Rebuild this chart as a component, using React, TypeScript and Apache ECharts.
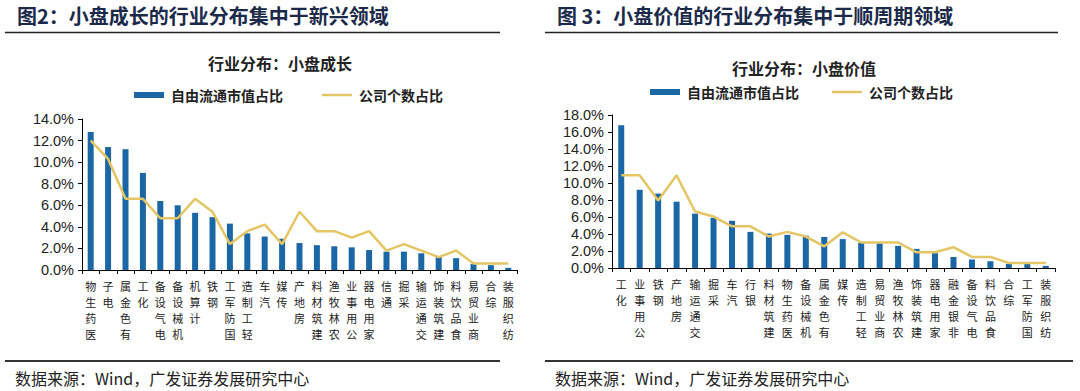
import React, { useEffect, useRef } from "react";
import * as echarts from "echarts";

const leftCats = ["医药生物", "电子", "有色金属", "化工", "电气设备", "机械设备", "计算机", "钢铁", "国防军工", "轻工制造", "汽车", "传媒", "房地产", "建筑材料", "农林牧渔", "公用事业", "家用电器", "通信", "采掘", "交通运输", "建筑装饰", "食品饮料", "商业贸易", "综合", "纺织服装"];
const leftMktCap = [12.8, 11.4, 11.2, 9.0, 6.4, 6.0, 5.3, 4.9, 4.3, 3.4, 3.1, 2.9, 2.5, 2.3, 2.2, 2.1, 1.85, 1.7, 1.7, 1.55, 1.25, 1.1, 0.55, 0.45, 0.2];
const leftCount = [12.0, 10.3, 6.6, 6.6, 4.8, 4.8, 6.6, 5.4, 2.4, 3.6, 4.2, 2.4, 5.4, 3.6, 3.6, 3.0, 3.6, 1.8, 2.4, 1.8, 1.2, 1.8, 0.6, 0.6, 0.6];

const rightCats = ["化工", "公用事业", "钢铁", "房地产", "交通运输", "采掘", "汽车", "银行", "建筑材料", "医药生物", "机械设备", "有色金属", "传媒", "轻工制造", "商业贸易", "农林牧渔", "建筑装饰", "家用电器", "非银金融", "电气设备", "食品饮料", "综合", "国防军工", "纺织服装"];
const rightMktCap = [16.8, 9.2, 8.75, 7.8, 6.4, 5.9, 5.55, 4.25, 4.05, 3.9, 3.8, 3.65, 3.4, 2.95, 2.9, 2.6, 2.25, 1.75, 1.3, 1.0, 0.8, 0.5, 0.5, 0.25];
const rightCount = [10.9, 10.9, 7.95, 10.9, 6.65, 6.05, 4.9, 4.9, 3.7, 4.25, 3.7, 2.55, 4.2, 3.0, 3.0, 3.0, 1.85, 1.85, 2.45, 1.3, 1.3, 0.6, 0.6, 0.6];

const leftYTicks = { max: 14, interval: 2 };
const rightYTicks = { max: 18, interval: 2 };

const SERIES_BAR = "自由流通市值占比";
const SERIES_LINE = "公司个数占比";

const BLUE = "#1b67a6";
const GOLD = "#e5c564";
const NAVY = "#1b2a4a";
const CJK = "'Noto Sans CJK SC', sans-serif";
const NUM = "'Liberation Sans', Arial, sans-serif";

function xAxis(gridIndex: number, cats: string[]) {
  return {
    type: "category",
    gridIndex,
    data: cats,
    axisLine: { lineStyle: { color: "#000", width: 1 } },
    axisTick: { show: true, length: 4, lineStyle: { color: "#000" } },
    axisLabel: {
      interval: 0,
      margin: 8,
      fontSize: 11,
      lineHeight: 16,
      color: "#222",
      fontFamily: CJK,
      verticalAlign: "top",
      formatter: (v: string) => v.split("").reverse().join("\n"),
    },
  };
}

function yAxis(gridIndex: number, t: { max: number; interval: number }) {
  return {
    type: "value",
    gridIndex,
    min: 0,
    max: t.max,
    interval: t.interval,
    splitLine: { show: false },
    axisLine: { show: true, lineStyle: { color: "#000", width: 1 } },
    axisTick: { show: true, length: 4, lineStyle: { color: "#000" } },
    axisLabel: {
      margin: 8,
      fontSize: 14.5,
      color: "#222",
      fontFamily: NUM,
      formatter: (v: number) => v.toFixed(1) + "%",
    },
  };
}

function legendItem(left: number, top: number, name: string, color: string, h: number) {
  return {
    left,
    top,
    itemWidth: 30,
    itemHeight: h,
    itemGap: 0,
    padding: 0,
    selectedMode: false,
    data: [{ name, icon: "rect", itemStyle: { color } }],
    textStyle: { fontSize: 14, fontWeight: "bold", color: "#222", fontFamily: CJK, padding: [0, 0, 0, 2] },
  };
}

export default function App() {
  const ref = useRef<HTMLDivElement>(null);
  useEffect(() => {
    if (!ref.current) return;
    const chart = echarts.init(ref.current, undefined, { renderer: "svg" });
    const option: any = {
      animation: false,
      backgroundColor: "#fff",
      grid: [
        { left: 82, top: 119, width: 435, height: 151 },
        { left: 612, top: 115, width: 443, height: 153 },
      ],
      xAxis: [xAxis(0, leftCats), xAxis(1, rightCats)],
      yAxis: [yAxis(0, leftYTicks), yAxis(1, rightYTicks)],
      legend: [
        legendItem(134, 88, SERIES_BAR, BLUE, 6),
        legendItem(322, 88, SERIES_LINE, GOLD, 2.5),
        legendItem(650, 85, SERIES_BAR, BLUE, 6),
        legendItem(832, 85, SERIES_LINE, GOLD, 2.5),
      ],
      series: [
        { name: SERIES_BAR, type: "bar", xAxisIndex: 0, yAxisIndex: 0, data: leftMktCap, barWidth: 6, itemStyle: { color: BLUE } },
        { name: SERIES_LINE, type: "line", xAxisIndex: 0, yAxisIndex: 0, data: leftCount, symbol: "none", lineStyle: { color: GOLD, width: 2.5 }, itemStyle: { color: GOLD } },
        { name: SERIES_BAR, type: "bar", xAxisIndex: 1, yAxisIndex: 1, data: rightMktCap, barWidth: 6, itemStyle: { color: BLUE } },
        { name: SERIES_LINE, type: "line", xAxisIndex: 1, yAxisIndex: 1, data: rightCount, symbol: "none", lineStyle: { color: GOLD, width: 2.5 }, itemStyle: { color: GOLD } },
      ],
      graphic: [
        { type: "text", left: 17, top: 5, style: { text: "图2：小盘成长的行业分布集中于新兴领域", fontSize: 20, fontWeight: "bold", fill: NAVY, fontFamily: CJK } },
        { type: "line", shape: { x1: 5, y1: 32.5, x2: 500, y2: 32.5 }, style: { stroke: "#222", lineWidth: 1.5 } },
        { type: "text", x: 280, y: 63, style: { text: "行业分布：小盘成长", fontSize: 16, fontWeight: "bold", fill: "#222", fontFamily: CJK, align: "center", verticalAlign: "middle" } },
        { type: "line", shape: { x1: 5, y1: 361, x2: 500, y2: 361 }, style: { stroke: "#333", lineWidth: 2 } },
        { type: "text", x: 15, y: 378, style: { text: "数据来源：Wind，广发证券发展研究中心", fontSize: 16, fill: "#222", fontFamily: CJK, verticalAlign: "middle" } },

        { type: "text", left: 557, top: 5, style: { text: "图 3：小盘价值的行业分布集中于顺周期领域", fontSize: 20, fontWeight: "bold", fill: NAVY, fontFamily: CJK } },
        { type: "line", shape: { x1: 545, y1: 32.5, x2: 1058, y2: 32.5 }, style: { stroke: "#222", lineWidth: 1.5 } },
        { type: "text", x: 804, y: 68, style: { text: "行业分布：小盘价值", fontSize: 16, fontWeight: "bold", fill: "#222", fontFamily: CJK, align: "center", verticalAlign: "middle" } },
        { type: "line", shape: { x1: 545, y1: 361, x2: 1073, y2: 361 }, style: { stroke: "#333", lineWidth: 2 } },
        { type: "text", x: 555, y: 378, style: { text: "数据来源：Wind，广发证券发展研究中心", fontSize: 16, fill: "#222", fontFamily: CJK, verticalAlign: "middle" } },
      ],
    };
    chart.setOption(option);
    return () => chart.dispose();
  }, []);
  return <div ref={ref} style={{ position: "absolute", left: 0, top: 0, width: 1080, height: 391, background: "#fff" }} />;
}
